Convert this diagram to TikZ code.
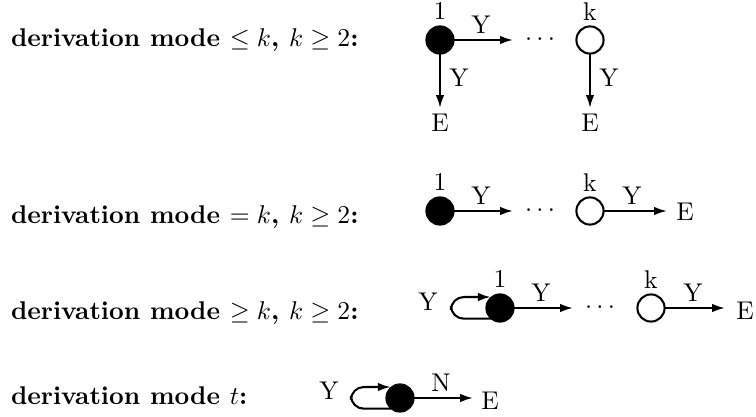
\documentclass[tikz,border=0pt]{standalone}
\usetikzlibrary{arrows.meta}
\begin{document}
\begin{tikzpicture}[x=0.39pt,y=-0.39pt,
  every node/.style={inner sep=0pt,outer sep=0pt},
  st/.style={circle,draw,line width=0.8pt,minimum size=10.6pt},
  fst/.style={st,fill=black},
  lbl/.style={anchor=base west,font=\bfseries},
  arr/.style={line width=0.8pt,-{Latex[length=5pt,width=3.3pt]}}]
\useasboundingbox (0,0) rectangle (756,417);
% row 1
\node[lbl] (l1) at (11,47) {derivation mode $\le k$, $k\ge 2$:};
\node[fst] (a1) at (440,40) {};
\node[st] (b1) at (590,40) {};
\node (n1) at (440,11) {1};
\node (k1) at (590,12) {k};
\coordinate (d1) at (513,40);
\node (dots1) at (540,40) {$\cdots$};
\draw[arr] (a1) -- (d1);
\node (y1a) at (481,25) {Y};
\node (e1a) at (440,123) {E};
\node (e1b) at (590,123) {E};
\coordinate (v1a) at (440,108);
\coordinate (v1b) at (590,108);
\draw[arr] (a1) -- (v1a);
\draw[arr] (b1) -- (v1b);
\node (y1b) at (459,78) {Y};
\node (y1c) at (609,78) {Y};
% row 2
\node[lbl] (l2) at (11,224) {derivation mode $= k$, $k\ge 2$:};
\node[fst] (a2) at (440,211) {};
\node[st] (b2) at (590,211) {};
\node (n2) at (440,182) {1};
\node (k2) at (590,183) {k};
\coordinate (d2) at (513,211);
\node (dots2) at (540,211) {$\cdots$};
\draw[arr] (a2) -- (d2);
\node (y2a) at (481,196) {Y};
\coordinate (t2) at (667,211);
\draw[arr] (b2) -- (t2);
\node (y2b) at (632,196) {Y};
\node (e2) at (685,212) {E};
% row 3
\node[lbl] (l3) at (11,320) {derivation mode $\ge k$, $k\ge 2$:};
\node[fst] (a3) at (500,308) {};
\node[st] (b3) at (651,308) {};
\node (n3) at (500,279) {1};
\node (k3) at (651,280) {k};
\coordinate (d3) at (573,308);
\node (dots3) at (600,308) {$\cdots$};
\draw[arr] (a3) -- (d3);
\node (y3a) at (541,293) {Y};
\coordinate (t3) at (725,308);
\draw[arr] (b3) -- (t3);
\node (y3b) at (693,293) {Y};
\node (e3) at (745,311) {E};
\coordinate (p3a) at (451,320);
\coordinate (p3b) at (451,297);
\draw[arr,rounded corners=5pt] (a3.-128) -- (a3.-128 -| p3a) -- (p3b) -- (p3b -| a3.133);
\node (y3) at (428,302) {Y};
% row 4
\node[lbl] (l4) at (11,405) {derivation mode $t$:};
\node[fst] (a4) at (400,398) {};
\coordinate (t4) at (473,398);
\draw[arr] (a4) -- (t4);
\node (n4) at (441,383) {N};
\node (e4) at (490,401) {E};
\coordinate (p4a) at (351,409);
\coordinate (p4b) at (351,387);
\draw[arr,rounded corners=5pt] (a4.-128) -- (a4.-128 -| p4a) -- (p4b) -- (p4b -| a4.133);
\node (y4) at (329,391) {Y};
\end{tikzpicture}
\end{document}
